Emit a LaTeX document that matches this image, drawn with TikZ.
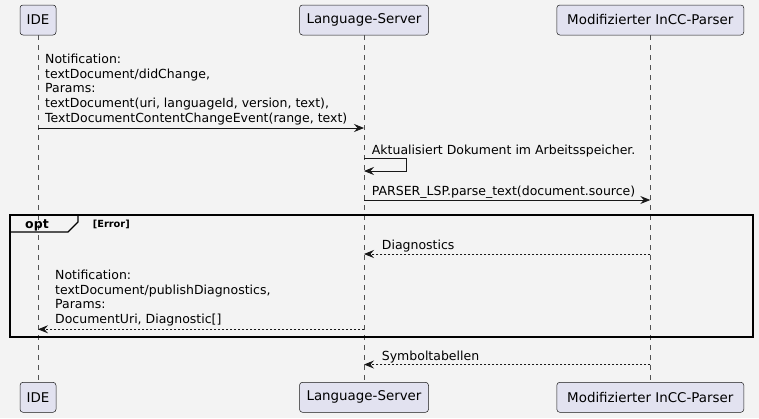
\documentclass[tikz,border=0pt]{standalone}
\usepackage{fontspec}
\setmainfont{DejaVu Sans}
\usetikzlibrary{arrows.meta,backgrounds}
\definecolor{umlbg}{HTML}{F3F3F3}
\definecolor{umlbox}{HTML}{E2E2F0}
\definecolor{umlline}{HTML}{181818}
\tikzset{
  participant/.style={draw=umlline, fill=umlbox, rounded corners=3pt, line width=0.5pt,
    minimum height=30pt, inner sep=0pt, font=\fontsize{13.4}{15}\selectfont},
  lifeline/.style={draw=umlline!75, line width=0.5pt, dash pattern=on 5pt off 5pt},
  msg/.style={draw=umlline, line width=0.8pt, -{Stealth[length=10pt,width=8pt,inset=3.5pt]}},
  reply/.style={msg, dash pattern=on 2pt off 2pt},
  msgtext/.style={inner sep=0pt, align=left, font=\fontsize{12.5}{14.7}\selectfont},
  optframe/.style={draw=black, line width=1.5pt},
}

\begin{document}
\begin{tikzpicture}[x=1pt, y=-1pt]
    \fill[umlbg] (0,0) rectangle (759,418);
    \useasboundingbox (0,0) rectangle (759,418);

    \node[participant, minimum width=36pt] (ideTop) at (38,20) {IDE};
    \node[participant, minimum width=129pt] (lsTop) at (364,20) {Language-Server};
    \node[participant, minimum width=187pt] (mpTop) at (650.3,20) {Modifizierter InCC-Parser};
    \node[participant, minimum width=36pt] (ideBot) at (38,397.3) {IDE};
    \node[participant, minimum width=129pt] (lsBot) at (364,397.3) {Language-Server};
    \node[participant, minimum width=187pt] (mpBot) at (650.3,397.3) {Modifizierter InCC-Parser};

    \draw[lifeline] (ideTop) -- (ideBot);
    \draw[lifeline] (lsTop) -- (lsBot);
    \draw[lifeline] (mpTop) -- (mpBot);

    \path (38,128) coordinate (didA) (364,128) coordinate (didB);
    \draw[msg] (didA) -- (didB);
    \node[msgtext, anchor=south west] (didText) at (45,125) {Notification:\\
      textDocument/didChange,\\
      Params:\\
      textDocument(uri, languageId, version, text),\\
      TextDocumentContentChangeEvent(range, text)};

    \path (364,158.3) coordinate (selfA) (364,171) coordinate (selfB);
    \draw[msg] (selfA) -- ++(42.5,0) |- (selfB);
    \node[msgtext, anchor=base west] (selfText) at (371.7,154) {Aktualisiert Dokument im Arbeitsspeicher.};

    \path (364,200) coordinate (parseA) (650.3,200) coordinate (parseB);
    \draw[msg] (parseA) -- (parseB);
    \node[msgtext, anchor=base west] (parseText) at (371.7,195) {PARSER\_LSP.parse\_text(document.source)};

    \draw[optframe] (10,215) rectangle (753,337);
    \draw[line width=1.2pt] (10,232) -- (68,232) -- (78,222) -- (78,215);
    \node[font=\bfseries\fontsize{12.5}{14}\selectfont, anchor=base] (optText) at (37,228) {opt};
    \node[font=\bfseries\fontsize{9.8}{11}\selectfont, anchor=base west, inner sep=0pt] (guardText) at (92.7,227) {[Error]};

    \path (650.3,254) coordinate (diagA) (364,254) coordinate (diagB);
    \draw[reply] (diagA) -- (diagB);
    \node[msgtext, anchor=base west] (diagText) at (381.7,249) {Diagnostics};

    \path (364,329.3) coordinate (pubA) (38,329.3) coordinate (pubB);
    \draw[reply] (pubA) -- (pubB);
    \node[msgtext, anchor=south west] (pubText) at (55,326.4) {Notification:\\
      textDocument/publishDiagnostics,\\
      Params:\\
      DocumentUri, Diagnostic[]};

    \path (650.3,364.5) coordinate (symA) (364,364.5) coordinate (symB);
    \draw[reply] (symA) -- (symB);
    \node[msgtext, anchor=base west] (symText) at (381.7,360) {Symboltabellen};
\end{tikzpicture}
\end{document}
